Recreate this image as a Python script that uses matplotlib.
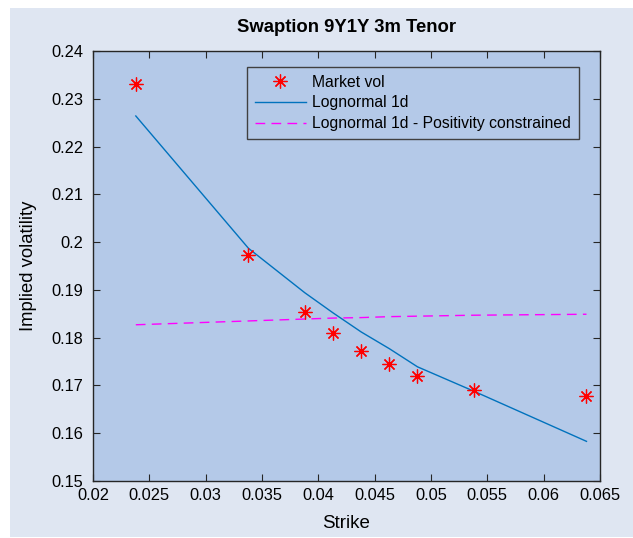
import matplotlib
matplotlib.use("Agg")
import matplotlib.pyplot as plt
from matplotlib.patches import Rectangle

plt.rcParams["font.family"] = ["Liberation Sans", "DejaVu Sans"]

# --- data ------------------------------------------------------------------
strikes = [0.0238, 0.0338, 0.0388, 0.0413, 0.0438, 0.0463, 0.0488, 0.0538, 0.0638]
market_vol = [0.2331, 0.1973, 0.1854, 0.1810, 0.1772, 0.1745, 0.1720, 0.1691, 0.1678]
lognormal_1d = [0.2264, 0.1987, 0.1894, 0.1852, 0.1812, 0.1777, 0.1739, 0.1688, 0.1583]
lognormal_pos = [0.1827, 0.1835, 0.1839, 0.1841, 0.1842, 0.1844, 0.1845, 0.1847, 0.1849]

x_ticks = [0.02, 0.025, 0.03, 0.035, 0.04, 0.045, 0.05, 0.055, 0.06, 0.065]
x_ticklabels = ["0.02", "0.025", "0.03", "0.035", "0.04", "0.045", "0.05", "0.055", "0.06", "0.065"]
y_ticks = [0.15, 0.16, 0.17, 0.18, 0.19, 0.2, 0.21, 0.22, 0.23, 0.24]
y_ticklabels = ["0.15", "0.16", "0.17", "0.18", "0.19", "0.2", "0.21", "0.22", "0.23", "0.24"]

# --- colours ---------------------------------------------------------------
PANEL = "#dfe6f2"
AX_BG = "#b4c9e8"
BLUE = "#0072bd"
MAGENTA = "#ff00ff"
EDGE = "#262626"

W, H = 633, 538
fig = plt.figure(figsize=(W / 100, H / 100), dpi=100, facecolor="white")
# light grey-blue figure panel with a white margin (MATLAB-style export)
fig.patches.append(Rectangle((10 / W, 1 / H), (W - 10) / W, (537 - 8) / H,
                             transform=fig.transFigure, facecolor=PANEL,
                             edgecolor="none", zorder=-10))

ax = fig.add_axes([93 / W, (H - 481) / H, (600 - 93) / W, (481 - 51) / H])
ax.set_facecolor(AX_BG)

ax.plot(strikes, market_vol, linestyle="none", marker=(8, 2, 0), markersize=10,
        color="#ff0000", markeredgewidth=0.9, label="Market vol", zorder=4)
ax.plot(strikes, lognormal_1d, color=BLUE, lw=1.0, label="Lognormal 1d", zorder=3)
ax.plot(strikes, lognormal_pos, color=MAGENTA, lw=1.0, dashes=(7, 4.5),
        label="Lognormal 1d - Positivity constrained", zorder=3)

ax.set_xlim(0.02, 0.065)
ax.set_ylim(0.15, 0.24)
ax.set_xticks(x_ticks)
ax.set_xticklabels(x_ticklabels)
ax.set_yticks(y_ticks)
ax.set_yticklabels(y_ticklabels)
ax.tick_params(direction="in", length=5, width=0.8, colors=EDGE, labelcolor="black",
               labelsize=11.8, top=True, right=True)
ax.tick_params(axis="x", pad=5)
ax.tick_params(axis="y", pad=7)
for s in ax.spines.values():
    s.set_color(EDGE)
    s.set_linewidth(1.0)

ax.set_title("Swaption 9Y1Y 3m Tenor", fontsize=13.3, fontweight="bold", pad=14)
ax.set_xlabel("Strike", fontsize=13.5, labelpad=9)
ax.set_ylabel("Implied volatility", fontsize=13.3, labelpad=10)

leg = ax.legend(loc="upper right", bbox_to_anchor=(0.9586, 0.9628), fontsize=11.3,
                frameon=True, fancybox=False, facecolor=AX_BG, edgecolor="#404040",
                handlelength=3.3, handletextpad=0.38, labelspacing=0.36,
                borderpad=0.5, borderaxespad=0.0)
leg.get_frame().set_linewidth(1.0)
leg.get_frame().set_alpha(None)

fig.savefig("out.png", dpi=100, facecolor="white")
